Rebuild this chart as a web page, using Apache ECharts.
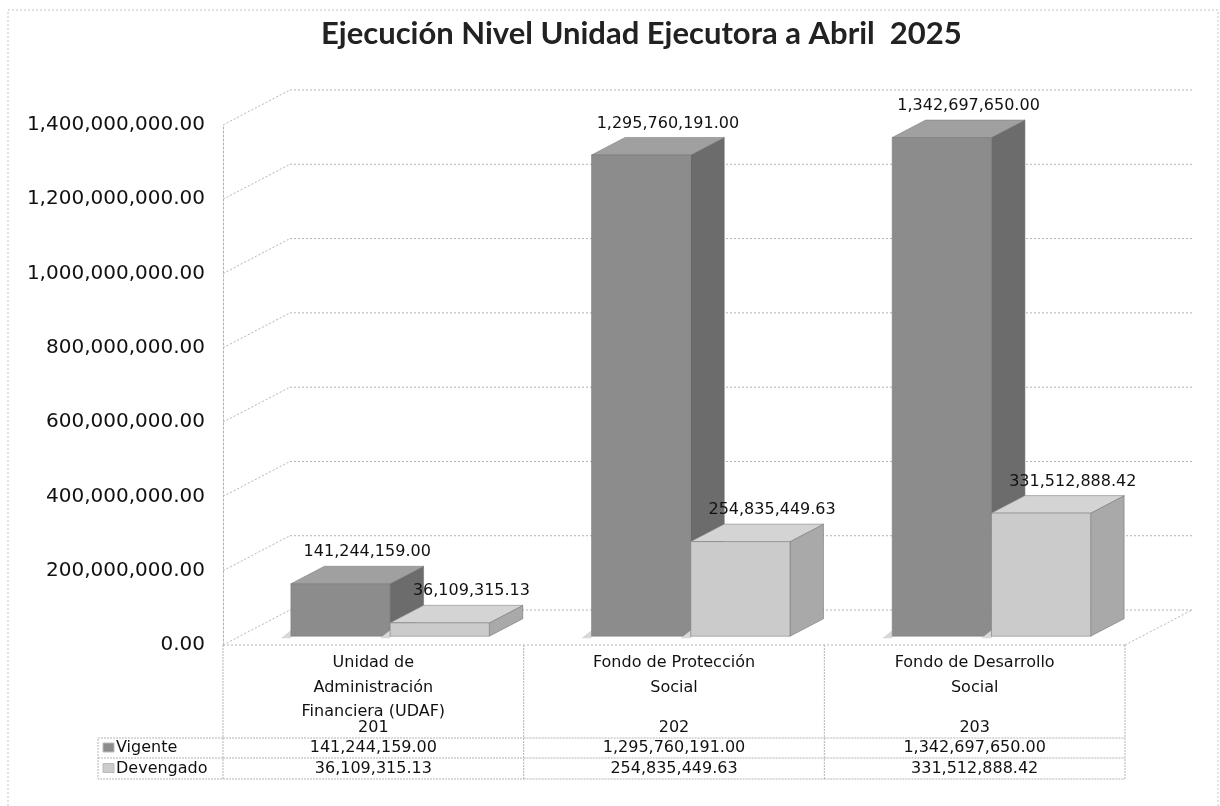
<!DOCTYPE html>
<html>
<head>
<meta charset="utf-8">
<script src="https://cdn.jsdelivr.net/npm/echarts@6/dist/echarts.min.js"></script>
<style>
  html, body { margin: 0; padding: 0; background: #fff; }
  #chart { width: 1220px; height: 806px; }
</style>
</head>
<body>
<div id="chart"></div>
<script>
const categories = ['Unidad de\nAdministración\nFinanciera (UDAF)', 'Fondo de Protección\nSocial', 'Fondo de Desarrollo\nSocial'];
const codes = ['201', '202', '203'];
const seriesNames = ['Vigente', 'Devengado'];
const vigente = [141244159.00, 1295760191.00, 1342697650.00];
const devengado = [36109315.13, 254835449.63, 331512888.42];
const yTicks = [0, 200000000, 400000000, 600000000, 800000000, 1000000000, 1200000000, 1400000000];

// 3d look: offset from front plane to back wall
const DX = 67, DY = -35;
const FONT = '"DejaVu Sans", Verdana, sans-serif';
const GRID_COLOR = '#b4b4b4';
const ROW_TOP = 738, ROW_MID = 758, ROW_BOT = 779;
const TABLE_LEFT = 98;

const fmt = v => v.toLocaleString('en-US', { minimumFractionDigits: 2, maximumFractionDigits: 2 });

const barColors = [
  { front: '#8c8c8c', side: '#6c6c6c', top: '#a0a0a0', labelShift: 10 },
  { front: '#cbcbcb', side: '#a9a9a9', top: '#d4d4d4', labelShift: 15 }
];

function barRenderer(si) {
  return function (params, api) {
    const cat = api.value(0), val = api.value(1);
    const top = api.coord([cat, val]);
    const base = api.coord([cat, 0]);
    const bw = api.size([1, 0])[0];
    const w = bw * 0.33;
    const x0 = si === 0 ? top[0] - w : top[0];
    const x1 = x0 + w;
    const fx = DX * 0.25, fy = DY * 0.25, bx = DX * 0.75, by = DY * 0.75;
    const c = barColors[si];
    return {
      type: 'group',
      children: [
        // small shadow on the floor
        { type: 'polygon', shape: { points: [[x0 + fx - 10, base[1] + fy + 2], [x0 + fx, base[1] + fy - 6], [x0 + fx, base[1] + fy + 2]] },
          style: { fill: '#d8d8d8' } },
        { type: 'polygon', shape: { points: [[x1 + fx, top[1] + fy], [x1 + bx, top[1] + by], [x1 + bx, base[1] + by], [x1 + fx, base[1] + fy]] },
          style: { fill: c.side, stroke: '#666', lineWidth: 0.5 } },
        { type: 'polygon', shape: { points: [[x0 + fx, top[1] + fy], [x1 + fx, top[1] + fy], [x1 + bx, top[1] + by], [x0 + bx, top[1] + by]] },
          style: { fill: c.top, stroke: '#777', lineWidth: 0.5 } },
        { type: 'rect', shape: { x: x0 + fx, y: top[1] + fy, width: w, height: base[1] - top[1] },
          style: { fill: c.front, stroke: '#777', lineWidth: 0.5 } },
        { type: 'text', x: (x0 + x1) / 2 + (fx + bx) / 2 + c.labelShift, y: top[1] + by - 6,
          style: { text: fmt(val), font: '16px ' + FONT, fill: '#111', align: 'center', verticalAlign: 'bottom' } }
      ]
    };
  };
}

function frameRenderer(params, api) {
  const cs = params.coordSys;
  const y = api.coord([0, api.value(1)])[1];
  const left = cs.x, right = cs.x + cs.width;
  const line = (x1, y1, x2, y2) => ({ type: 'line', shape: { x1, y1, x2, y2 },
    style: { stroke: GRID_COLOR, lineWidth: 1, lineDash: [2, 2] } });
  const kids = [line(left, y, left + DX, y + DY), line(left + DX, y + DY, right + DX, y + DY)];
  if (params.dataIndex === 0) {
    kids.push(line(left, y, right, y));
    kids.push(line(right, y, right + DX, y + DY));
  }
  return { type: 'group', children: kids };
}

function tableRenderer(params, api) {
  const i = api.value(0);
  const p = api.coord([i, 0]);
  const bw = api.size([1, 0])[0];
  const cx = p[0];
  const ln = (x1, y1, x2, y2) => ({ type: 'line', shape: { x1, y1, x2, y2 },
    style: { stroke: GRID_COLOR, lineWidth: 1, lineDash: [2, 1] } });
  const txt = (t, y, va) => ({ type: 'text', x: cx, y,
    style: { text: t, font: '16px ' + FONT, fill: '#111', align: 'center', verticalAlign: va || 'middle', lineHeight: 24.5 } });
  const kids = [
    txt(categories[i], p[1] + 6, 'top'),
    txt(codes[i], 728),
    txt(fmt(vigente[i]), (ROW_TOP + ROW_MID) / 2),
    txt(fmt(devengado[i]), (ROW_MID + ROW_BOT) / 2),
    ln(cx + bw / 2, p[1], cx + bw / 2, ROW_BOT),
    ln(cx - bw / 2, ROW_TOP, cx + bw / 2, ROW_TOP),
    ln(cx - bw / 2, ROW_MID, cx + bw / 2, ROW_MID),
    ln(cx - bw / 2, ROW_BOT, cx + bw / 2, ROW_BOT)
  ];
  if (i === 0) kids.push(ln(cx - bw / 2, p[1], cx - bw / 2, ROW_BOT));
  return { type: 'group', children: kids };
}

const chart = echarts.init(document.getElementById('chart'));

chart.setOption({
  backgroundColor: '#fff',
  animation: false,
  title: {
    text: 'Ejecución Nivel Unidad Ejecutora a Abril  2025',
    left: 316,
    top: 13,
    textStyle: { fontFamily: 'Lato', fontWeight: 'bold', fontSize: 31, color: '#222' }
  },
  grid: { left: 223, right: 95, top: 125, bottom: 161 },
  xAxis: {
    type: 'category',
    data: categories,
    axisLine: { show: false },
    axisTick: { show: false },
    axisLabel: { show: false }
  },
  yAxis: {
    type: 'value',
    min: 0,
    max: 1400000000,
    interval: 200000000,
    axisLine: { show: true, lineStyle: { color: GRID_COLOR, type: [2, 2] } },
    axisTick: { show: false },
    splitLine: { show: false },
    axisLabel: { formatter: v => fmt(v), fontFamily: FONT, fontSize: 20, color: '#111', margin: 18 }
  },
  graphic: [
    { type: 'rect', shape: { x: 8, y: 10, width: 1210, height: 810 },
      style: { fill: 'none', stroke: '#c4c4c4', lineWidth: 1, lineDash: [2, 2] } },
    { type: 'polyline', shape: { points: [[223, ROW_TOP], [TABLE_LEFT, ROW_TOP], [TABLE_LEFT, ROW_BOT], [223, ROW_BOT]] },
      style: { fill: 'none', stroke: GRID_COLOR, lineWidth: 1, lineDash: [2, 1] } },
    { type: 'line', shape: { x1: TABLE_LEFT, y1: ROW_MID, x2: 223, y2: ROW_MID },
      style: { stroke: GRID_COLOR, lineWidth: 1, lineDash: [2, 1] } },
    { type: 'rect', shape: { x: TABLE_LEFT + 5, y: (ROW_TOP + ROW_MID) / 2 - 5, width: 11, height: 9 },
      style: { fill: '#8c8c8c', stroke: '#bbb' } },
    { type: 'rect', shape: { x: TABLE_LEFT + 5, y: (ROW_MID + ROW_BOT) / 2 - 5, width: 11, height: 9 },
      style: { fill: '#cbcbcb', stroke: '#bbb' } },
    { type: 'text', x: TABLE_LEFT + 18, y: (ROW_TOP + ROW_MID) / 2,
      style: { text: seriesNames[0], font: '16px ' + FONT, fill: '#111', verticalAlign: 'middle' } },
    { type: 'text', x: TABLE_LEFT + 18, y: (ROW_MID + ROW_BOT) / 2,
      style: { text: seriesNames[1], font: '16px ' + FONT, fill: '#111', verticalAlign: 'middle' } }
  ],
  series: [
    {
      name: 'frame',
      type: 'custom',
      silent: true,
      z: 1,
      renderItem: frameRenderer,
      data: yTicks.map(v => [0, v])
    },
    {
      name: seriesNames[0],
      type: 'custom',
      z: 3,
      renderItem: barRenderer(0),
      data: vigente.map((v, i) => [i, v])
    },
    {
      name: seriesNames[1],
      type: 'custom',
      z: 4,
      renderItem: barRenderer(1),
      data: devengado.map((v, i) => [i, v])
    },
    {
      name: 'tabla',
      type: 'custom',
      silent: true,
      z: 2,
      renderItem: tableRenderer,
      data: codes.map((c, i) => [i])
    }
  ]
});
</script>
</body>
</html>
